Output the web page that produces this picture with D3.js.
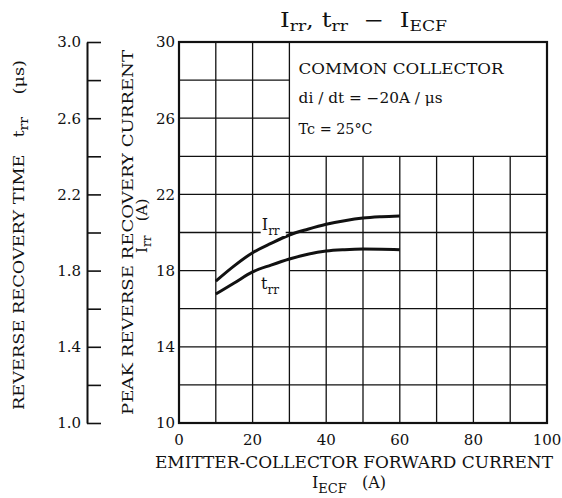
<!DOCTYPE html>
<html>
<head>
<meta charset="utf-8">
<script src="https://cdn.jsdelivr.net/npm/d3@7"></script>
<style>
  body { margin: 0; background: #fff; }
  svg text { font-family: "DejaVu Serif", serif; fill: #111; white-space: pre; }
</style>
</head>
<body>
<div id="chart"></div>
<script>
const iecf = [10, 15, 20, 25, 30, 35, 40, 45, 50, 55, 60];
const irr  = [17.45, 18.25, 18.94, 19.43, 19.87, 20.17, 20.43, 20.62, 20.76, 20.83, 20.87];
const trr  = [1.677, 1.735, 1.793, 1.829, 1.861, 1.886, 1.903, 1.910, 1.913, 1.912, 1.910];
const xTicks = [0, 20, 40, 60, 80, 100];
const irrTicks = [10, 14, 18, 22, 26, 30];
const trrTicks = [1.0, 1.2, 1.4, 1.6, 1.8, 2.0, 2.2, 2.4, 2.6, 2.8, 3.0];
const notes = ["COMMON COLLECTOR", "di / dt = \u221220A / \u03bcs", "Tc = 25\u00b0C"];

const W = 562, H = 498;
const pLeft = 179, pRight = 547, pTop = 42, pBottom = 423;

const svg = d3.select("#chart").append("svg")
    .attr("width", W).attr("height", H);

const x = d3.scaleLinear().domain([0, 100]).range([pLeft, pRight]);
const y = d3.scaleLinear().domain([10, 30]).range([pBottom, pTop]);
const yt = d3.scaleLinear().domain([1.0, 3.0]).range([pBottom, pTop]);

// grid lines (the note box hides the upper right part)
const grid = svg.append("g").attr("stroke", "#111").attr("stroke-width", 1.3);
d3.range(10, 100, 10).forEach(v => {
    grid.append("line")
        .attr("x1", x(v)).attr("x2", x(v))
        .attr("y1", y(10)).attr("y2", v <= 30 ? y(30) : y(24));
});
d3.range(12, 30, 2).forEach(v => {
    let segs = [[0, 100]];
    if (v > 24) segs = [[0, 30]];
    if (v === 18) segs = [[0, 10], [30, 100]];
    segs.forEach(s => grid.append("line")
        .attr("x1", x(s[0])).attr("x2", x(s[1]))
        .attr("y1", y(v)).attr("y2", y(v)));
});

// frame
svg.append("rect")
    .attr("x", pLeft).attr("y", pTop)
    .attr("width", pRight - pLeft).attr("height", pBottom - pTop)
    .attr("fill", "none").attr("stroke", "#111").attr("stroke-width", 2.2);

// left Irr tick labels
svg.append("g").selectAll("text").data(irrTicks).join("text")
    .attr("x", pLeft - 4).attr("y", d => y(d))
    .attr("dy", "0.36em").attr("text-anchor", "end")
    .attr("font-size", 15).text(d => d);

// x tick labels
svg.append("g").selectAll("text").data(xTicks).join("text")
    .attr("x", d => x(d)).attr("y", 445)
    .attr("text-anchor", "middle").attr("font-size", 15).text(d => d);

// trr axis
const trrAxis = d3.axisLeft(yt)
    .tickValues(trrTicks)
    .tickSize(-14).tickSizeOuter(0)
    .tickPadding(22)
    .tickFormat((d, i) => i % 2 === 0 ? d3.format(".1f")(d) : "");
const ag = svg.append("g").attr("transform", "translate(87,0)").call(trrAxis);
ag.select(".domain").attr("stroke", "#111").attr("stroke-width", 2);
ag.selectAll(".tick line").attr("stroke", "#111").attr("stroke-width", 1.6);
ag.selectAll(".tick text").attr("font-size", 15).attr("font-family", "DejaVu Serif").attr("fill", "#111").attr("x", -6);

// curves
const lineIrr = d3.line().x((d, i) => x(iecf[i])).y(d => y(d)).curve(d3.curveMonotoneX);
const lineTrr = d3.line().x((d, i) => x(iecf[i])).y(d => yt(d)).curve(d3.curveMonotoneX);
svg.append("path").attr("d", lineIrr(irr))
    .attr("fill", "none").attr("stroke", "#111").attr("stroke-width", 3);
svg.append("path").attr("d", lineTrr(trr))
    .attr("fill", "none").attr("stroke", "#111").attr("stroke-width", 3);

// curve labels
function subLabel(g, main, sub, px, py, size, subSize) {
    const t = g.append("text").attr("x", px).attr("y", py).attr("font-size", size);
    t.append("tspan").text(main);
    t.append("tspan").attr("font-size", subSize).attr("dy", size * 0.3).text(sub);
    return t;
}
const lab = svg.append("g");
lab.append("rect").attr("x", x(22.2)).attr("y", 218).attr("width", 25).attr("height", 18).attr("fill", "#fff");
subLabel(lab, "I", "rr", x(22.5), 230, 16, 12);
subLabel(lab, "t", "rr", x(22.3), 289, 16, 12);

// note box text
svg.append("g").selectAll("text").data(notes).join("text")
    .attr("x", x(32.5)).attr("y", (d, i) => [74, 103, 134][i])
    .attr("font-size", 14)
    .attr("textLength", (d, i) => [205, 144, 74][i])
    .attr("lengthAdjust", "spacingAndGlyphs")
    .text(d => d);

// title
const title = svg.append("text").attr("x", 280).attr("y", 27).attr("font-size", 20)
    .attr("textLength", 167).attr("lengthAdjust", "spacingAndGlyphs");
title.append("tspan").text("I");
title.append("tspan").attr("font-size", 14).attr("dy", 4).text("rr");
title.append("tspan").attr("dy", -4).text(", t");
title.append("tspan").attr("font-size", 14).attr("dy", 4).text("rr");
title.append("tspan").attr("dy", -4).text("  \u2212  I");
title.append("tspan").attr("font-size", 14).attr("dy", 4).text("ECF");

// x axis title
svg.append("text").attr("x", 155).attr("y", 468).attr("font-size", 16)
    .attr("textLength", 398).attr("lengthAdjust", "spacingAndGlyphs")
    .text("EMITTER-COLLECTOR FORWARD CURRENT");
const xt2 = svg.append("text").attr("x", 312).attr("y", 488).attr("font-size", 16);
xt2.append("tspan").text("I");
xt2.append("tspan").attr("font-size", 13).attr("dy", 5).text("ECF");
xt2.append("tspan").attr("dy", -5).text("   (A)");

// left titles
const lt1 = svg.append("text").attr("transform", "translate(24,410) rotate(-90)").attr("font-size", 15)
    .attr("textLength", 350).attr("lengthAdjust", "spacingAndGlyphs");
lt1.append("tspan").text("REVERSE RECOVERY TIME   t");
lt1.append("tspan").attr("font-size", 12).attr("dy", 4).text("rr");
lt1.append("tspan").attr("dy", -4).text("    (\u03bcs)");

svg.append("text").attr("transform", "translate(133,415) rotate(-90)").attr("font-size", 15)
    .attr("textLength", 365).attr("lengthAdjust", "spacingAndGlyphs")
    .text("PEAK REVERSE RECOVERY CURRENT");
const lt2 = svg.append("text").attr("transform", "translate(147,253) rotate(-90)").attr("font-size", 15);
lt2.append("tspan").text("I");
lt2.append("tspan").attr("font-size", 12).attr("dy", 4).text("rr");
lt2.append("tspan").attr("dy", -4).text("   (A)");
</script>
</body>
</html>
